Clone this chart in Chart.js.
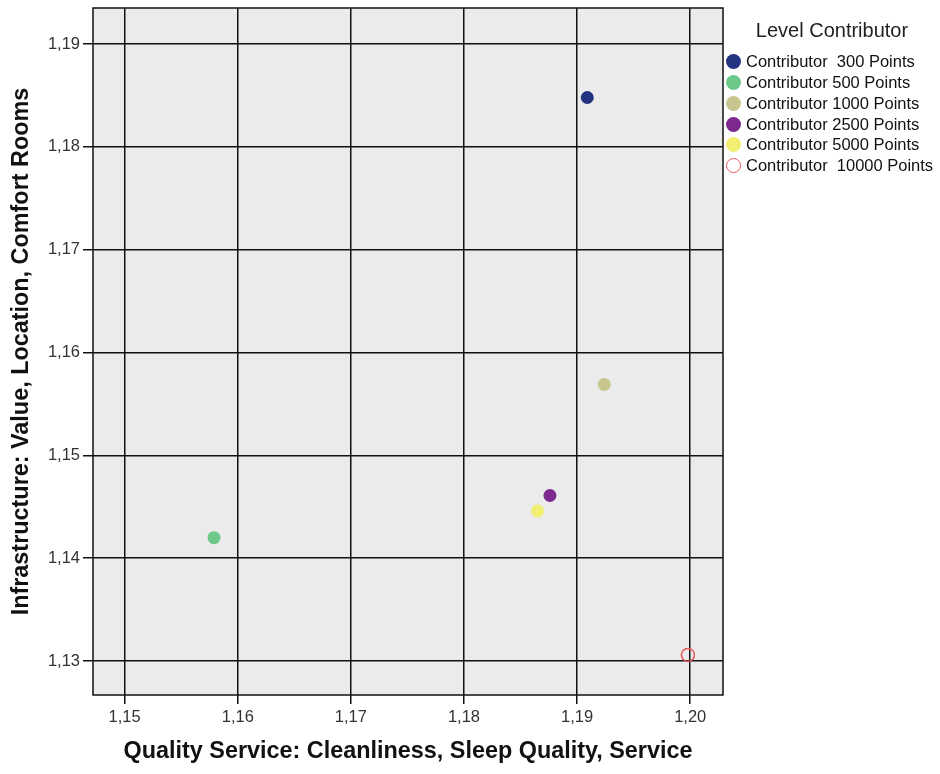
<!DOCTYPE html>
<html>
<head>
<meta charset="utf-8">
<script src="https://cdn.jsdelivr.net/npm/chart.js@4.4.1/dist/chart.umd.min.js"></script>
<style>
  html, body { margin: 0; padding: 0; background: #ffffff; }
  #wrap { position: relative; width: 940px; height: 774px; }
  #legend {
    position: absolute; left: 724px; top: 0; width: 216px;
    font-family: 'Liberation Sans', Arial, sans-serif; color: #111;
  }
  #legend .title { font-size: 20px; line-height: 22px; height: 22px; text-align: center; margin-top: 19px; margin-bottom: 10.3px; color: #222; }
  #legend .item { display: flex; align-items: center; height: 20.8px; font-size: 16.5px; white-space: pre; }
  #legend .dot { width: 15px; height: 15px; border-radius: 50%; box-sizing: border-box; margin-left: 2px; margin-right: 5px; flex: none; }
</style>
</head>
<body>
<div id="wrap">
  <canvas id="chart" width="940" height="774"></canvas>
  <div id="legend"></div>
</div>
<script>
const levels = ['Contributor  300 Points', 'Contributor 500 Points', 'Contributor 1000 Points',
  'Contributor 2500 Points', 'Contributor 5000 Points', 'Contributor  10000 Points'];
const qualityService = [1.1909, 1.1579, 1.1924, 1.1876, 1.1865, 1.1998];
const infrastructure = [1.1848, 1.1420, 1.1569, 1.1461, 1.1446, 1.1306];
const levelColors = ['#23337f', '#6cc98a', '#c8c58e', '#7d2a8e', '#f2ee72', '#e8595a'];
const hollow = [false, false, false, false, false, true];

const font = "'Liberation Sans', Arial, sans-serif";

const frame = {
  id: 'frame',
  beforeDraw(chart) {
    const { ctx, chartArea: a } = chart;
    ctx.save();
    ctx.fillStyle = '#ebebeb';
    ctx.fillRect(a.left, a.top, a.right - a.left, a.bottom - a.top);
    ctx.restore();
  },
  afterDatasetsDraw(chart) {
    const { ctx, chartArea: a } = chart;
    ctx.save();
    ctx.strokeStyle = '#111';
    ctx.lineWidth = 1.5;
    ctx.strokeRect(a.left, a.top, a.right - a.left, a.bottom - a.top);
    ctx.restore();
  }
};

const datasets = levels.map((label, i) => ({
  label,
  data: [{ x: qualityService[i], y: infrastructure[i] }],
  backgroundColor: hollow[i] ? 'rgba(0,0,0,0)' : levelColors[i],
  borderColor: levelColors[i],
  borderWidth: hollow[i] ? 1.5 : 0,
  pointRadius: 6.5,
  pointHoverRadius: 6.5
}));

const fmt = (v) => v.toFixed(2).replace('.', ',');

function noEdgePadding(scale) {
  scale.paddingTop = 0;
  scale.paddingBottom = 0;
  scale.paddingLeft = 0;
  scale.paddingRight = 0;
}

new Chart(document.getElementById('chart'), {
  type: 'scatter',
  data: { datasets },
  options: {
    responsive: false,
    animation: false,
    layout: { padding: { left: 0, right: 217, top: 8, bottom: 0 } },
    plugins: { legend: { display: false }, tooltip: { enabled: false } },
    scales: {
      x: {
        min: 1.1472, max: 1.2029,
        afterFit(scale) { scale.height = 79; noEdgePadding(scale); },
        grid: { color: '#111', lineWidth: 1.5, tickLength: 9, tickColor: '#111' },
        border: { display: false },
        ticks: { stepSize: 0.01, includeBounds: false, color: '#333', font: { family: font, size: 16.5 }, padding: 4, callback: fmt, maxRotation: 0 },
        title: { display: true, text: 'Quality Service: Cleanliness, Sleep Quality, Service', color: '#111',
          font: { family: font, size: 23.4, weight: 'bold' }, padding: { top: 4, bottom: 8 } }
      },
      y: {
        min: 1.1267, max: 1.1935,
        afterFit(scale) { scale.width = 93; noEdgePadding(scale); },
        grid: { color: '#111', lineWidth: 1.5, tickLength: 10, tickColor: '#111' },
        border: { display: false },
        ticks: { stepSize: 0.01, includeBounds: false, color: '#333', font: { family: font, size: 16.5 }, padding: 3, callback: fmt },
        title: { display: true, text: 'Infrastructure: Value, Location, Comfort Rooms', color: '#111',
          font: { family: font, size: 23.4, weight: 'bold' }, padding: { top: 8, bottom: 4 } }
      }
    }
  },
  plugins: [frame]
});

const legend = document.getElementById('legend');
legend.innerHTML = '<div class="title">Level Contributor</div>' + levels.map((label, i) => {
  const style = hollow[i]
    ? `border:1.5px solid ${levelColors[i]};background:transparent`
    : `background:${levelColors[i]}`;
  return `<div class="item"><span class="dot" style="${style}"></span>${label}</div>`;
}).join('');
</script>
</body>
</html>
